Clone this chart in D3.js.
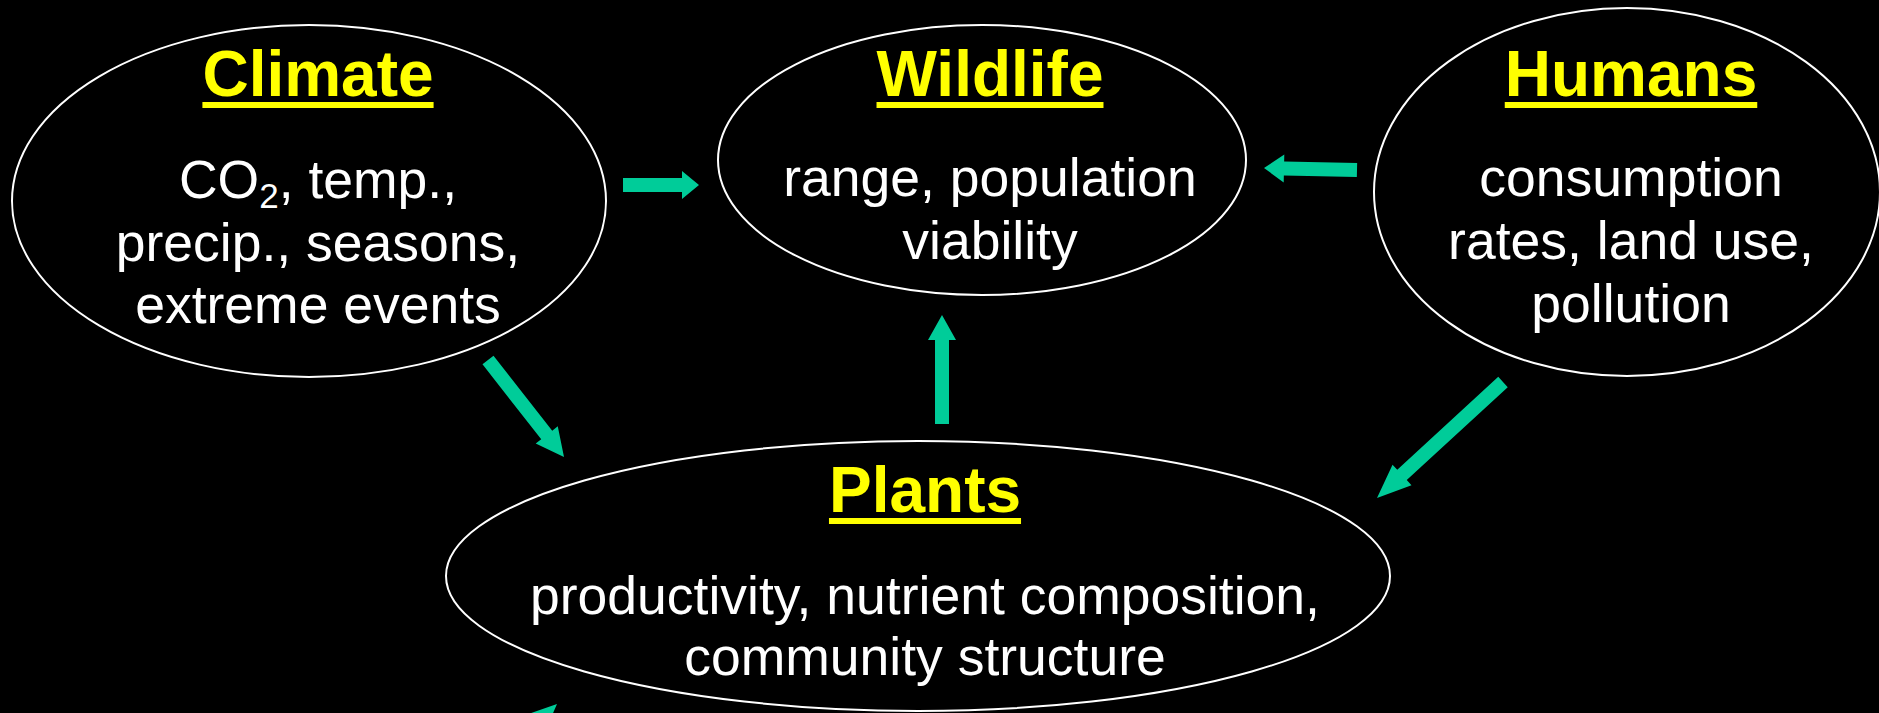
<!DOCTYPE html>
<html>
<head>
<meta charset="utf-8">
<title>Climate, wildlife, humans, plants</title>
<script src="https://d3js.org/d3.v7.min.js"></script>
<style>
  html, body { margin: 0; padding: 0; background: #000; overflow: hidden; }
  text { font-family: "Liberation Sans", Arial, sans-serif; }
</style>
</head>
<body>
<svg id="diagram" width="1879" height="713"></svg>
<script>
// node names, titles and text lines
var nodeNames = ["climate", "wildlife", "humans", "plants"];
var nodeTitles = ["Climate", "Wildlife", "Humans", "Plants"];
var nodeLines = [
    [["CO", "2", ", temp.,"], ["precip., seasons,"], ["extreme events"]],
    [["range, population"], ["viability"]],
    [["consumption"], ["rates, land use,"], ["pollution"]],
    [["productivity, nutrient composition,"], ["community structure"]]
];

// arrows: from -> to
var arrowFrom = ["climate", "humans", "plants", "climate", "humans", "offpage"];
var arrowTo   = ["wildlife", "wildlife", "wildlife", "plants", "plants", "plants"];

// layout of the slide (ellipse geometry, text anchors, arrow ends)
var layout = {
    climate:  {cx: 309,  cy: 201, rx: 297, ry: 176, tx: 318, titleY: 96, lineY: [198, 261, 323]},
    wildlife: {cx: 982,  cy: 160, rx: 264, ry: 135, tx: 990, titleY: 96, lineY: [196, 259]},
    humans:   {cx: 1627, cy: 192, rx: 253, ry: 184, tx: 1631, titleY: 96, lineY: [196, 259, 322]},
    plants:   {cx: 918,  cy: 576, rx: 472, ry: 135, tx: 925, titleY: 512, lineY: [614, 675]}
};
var arrowEnds = [
    {x1: 623,  y1: 185, x2: 699,  y2: 185, head: 17},
    {x1: 1357, y1: 170, x2: 1264, y2: 168, head: 20},
    {x1: 942,  y1: 424, x2: 942,  y2: 315, head: 25},
    {x1: 488,  y1: 360, x2: 564,  y2: 457, head: 28},
    {x1: 1503, y1: 382, x2: 1377, y2: 498, head: 34},
    {x1: 460,  y1: 794, x2: 557,  y2: 704, head: 32}
];

var svg = d3.select("#diagram");
svg.append("rect").attr("width", 1879).attr("height", 713).attr("fill", "#000");

var teal = "#00cc99";

function arrowPoints(a) {
    var dx = a.x2 - a.x1, dy = a.y2 - a.y1;
    var len = Math.sqrt(dx * dx + dy * dy);
    var ux = dx / len, uy = dy / len;
    var nx = -uy, ny = ux;
    var sw = 7, hw = 14;
    var bx = a.x2 - ux * a.head, by = a.y2 - uy * a.head;
    var pts = [
        [a.x1 + nx * sw, a.y1 + ny * sw],
        [bx + nx * sw, by + ny * sw],
        [bx + nx * hw, by + ny * hw],
        [a.x2, a.y2],
        [bx - nx * hw, by - ny * hw],
        [bx - nx * sw, by - ny * sw],
        [a.x1 - nx * sw, a.y1 - ny * sw]
    ];
    return pts.map(function(p) { return p.join(","); }).join(" ");
}

svg.append("g").attr("id", "arrows")
    .selectAll("polygon")
    .data(arrowEnds)
    .enter()
    .append("polygon")
    .attr("points", arrowPoints)
    .attr("fill", teal);

var nodes = nodeNames.map(function(n, i) {
    return {name: n, title: nodeTitles[i], lines: nodeLines[i], L: layout[n]};
});

var g = svg.append("g").attr("id", "nodes")
    .selectAll("g")
    .data(nodes)
    .enter()
    .append("g");

g.append("ellipse")
    .attr("cx", function(d) { return d.L.cx; })
    .attr("cy", function(d) { return d.L.cy; })
    .attr("rx", function(d) { return d.L.rx; })
    .attr("ry", function(d) { return d.L.ry; })
    .attr("fill", "#000")
    .attr("stroke", "#fff")
    .attr("stroke-width", 2);

g.each(function(d) {
    var el = d3.select(this);
    var t = el.append("text")
        .attr("x", d.L.tx)
        .attr("y", d.L.titleY)
        .attr("text-anchor", "middle")
        .attr("fill", "#ffff00")
        .attr("font-weight", "bold")
        .attr("font-size", 64)
        .text(d.title);
    var w = t.node().getComputedTextLength();
    el.append("rect")
        .attr("x", d.L.tx - w / 2)
        .attr("y", d.L.titleY + 6)
        .attr("width", w)
        .attr("height", 6)
        .attr("fill", "#ffff00");

    d.lines.forEach(function(parts, i) {
        var line = el.append("text")
            .attr("x", d.L.tx)
            .attr("y", d.L.lineY[i])
            .attr("text-anchor", "middle")
            .attr("fill", "#fff")
            .attr("font-size", 53.5);
        if (parts.length == 1) {
            line.text(parts[0]);
        } else {
            line.append("tspan").text(parts[0]);
            line.append("tspan").attr("font-size", 35).attr("dy", 10).text(parts[1]);
            line.append("tspan").attr("dy", -10).text(parts[2]);
        }
    });
});
</script>
</body>
</html>
